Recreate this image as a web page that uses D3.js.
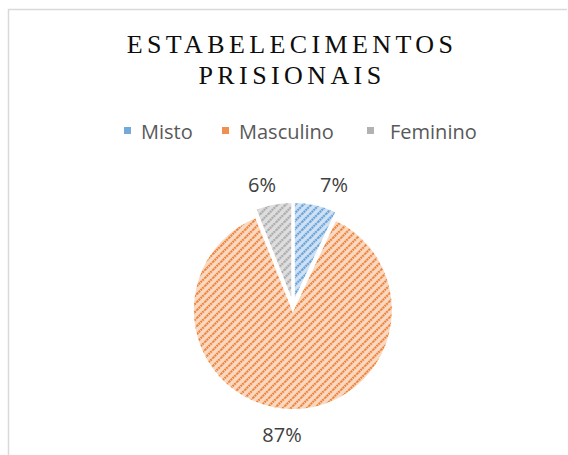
<!DOCTYPE html>
<html><head><meta charset="utf-8">
<script src="https://cdn.jsdelivr.net/npm/d3@7"></script>
<style>body{margin:0;background:#fff}svg{display:block}</style>
</head><body>
<script>
const categories = ["Misto", "Masculino", "Feminino"];
const values = [7, 87, 6];
const labels = ["7%", "87%", "6%"];
const colors = ["#5b9bd5", "#ed7d31", "#a5a5a5"];
const bgColors = ["#cfe1f3", "#f9d9c2", "#dedede"];

const W = 568, H = 455;
const svg = d3.select("body").append("svg").attr("width", W).attr("height", H);
const defs = svg.append("defs");
categories.forEach((c, i) => {
  const p = defs.append("pattern").attr("id", "pat" + i)
    .attr("patternUnits", "userSpaceOnUse").attr("width", 8).attr("height", 8);
  p.append("rect").attr("width", 8).attr("height", 8).attr("fill", bgColors[i]);
  p.append("path").attr("d", "M-2,2 L2,-2 M0,8 L8,0 M6,10 L10,6")
    .attr("stroke", colors[i]).attr("stroke-width", 2.2).attr("stroke-dasharray", "1.8,0.8").attr("opacity", 1);
});

// border
svg.append("path").attr("d", `M8.5,${H} L8.5,9.5 L567,9.5`).attr("fill", "none").attr("stroke", "#d9d9d9").attr("stroke-width", 1.5);

// title
const title = svg.append("text").attr("text-anchor", "middle")
  .attr("font-family", "Liberation Serif, Times New Roman, serif").attr("font-size", 26)
  .attr("fill", "#0d0d0d").attr("letter-spacing", 4.4);
title.append("tspan").attr("x", 292).attr("y", 53).text("ESTABELECIMENTOS");
title.append("tspan").attr("x", 292).attr("y", 84).text("PRISIONAIS");

// legend
const legendX = [124, 222, 367];
const textX = [141, 239, 390];
const lg = svg.append("g");
categories.forEach((c, i) => {
  lg.append("rect").attr("x", legendX[i]).attr("y", 127).attr("width", 7).attr("height", 7)
    .attr("fill", colors[i]).attr("opacity", 0.85);
  lg.append("text").attr("x", textX[i]).attr("y", 139)
    .attr("font-family", "Open Sans, sans-serif").attr("font-size", 20).attr("fill", "#595959").text(c);
});

// pie
const cx = 293, cy = 306, r = 100, expl = 4;
const pie = d3.pie().sort(null).value(d => d)(values);
const arc = d3.arc().innerRadius(0).outerRadius(r);
const g = svg.append("g").attr("transform", `translate(${cx},${cy})`);
pie.forEach((d, i) => {
  const mid = (d.startAngle + d.endAngle) / 2;
  const dx = Math.sin(mid) * expl, dy = -Math.cos(mid) * expl;
  g.append("path").attr("d", arc(d)).attr("transform", `translate(${dx},${dy})`)
    .attr("fill", `url(#pat${i})`).attr("stroke", "#fff").attr("stroke-width", 2);
});

// data labels
const labelPos = [[334, 192], [282, 442], [262, 192]];
labels.forEach((t, i) => {
  svg.append("text").attr("x", labelPos[i][0]).attr("y", labelPos[i][1]).attr("text-anchor", "middle")
    .attr("font-family", "Open Sans, sans-serif").attr("font-size", 20).attr("fill", "#404040").text(t);
});
</script>
</body></html>
